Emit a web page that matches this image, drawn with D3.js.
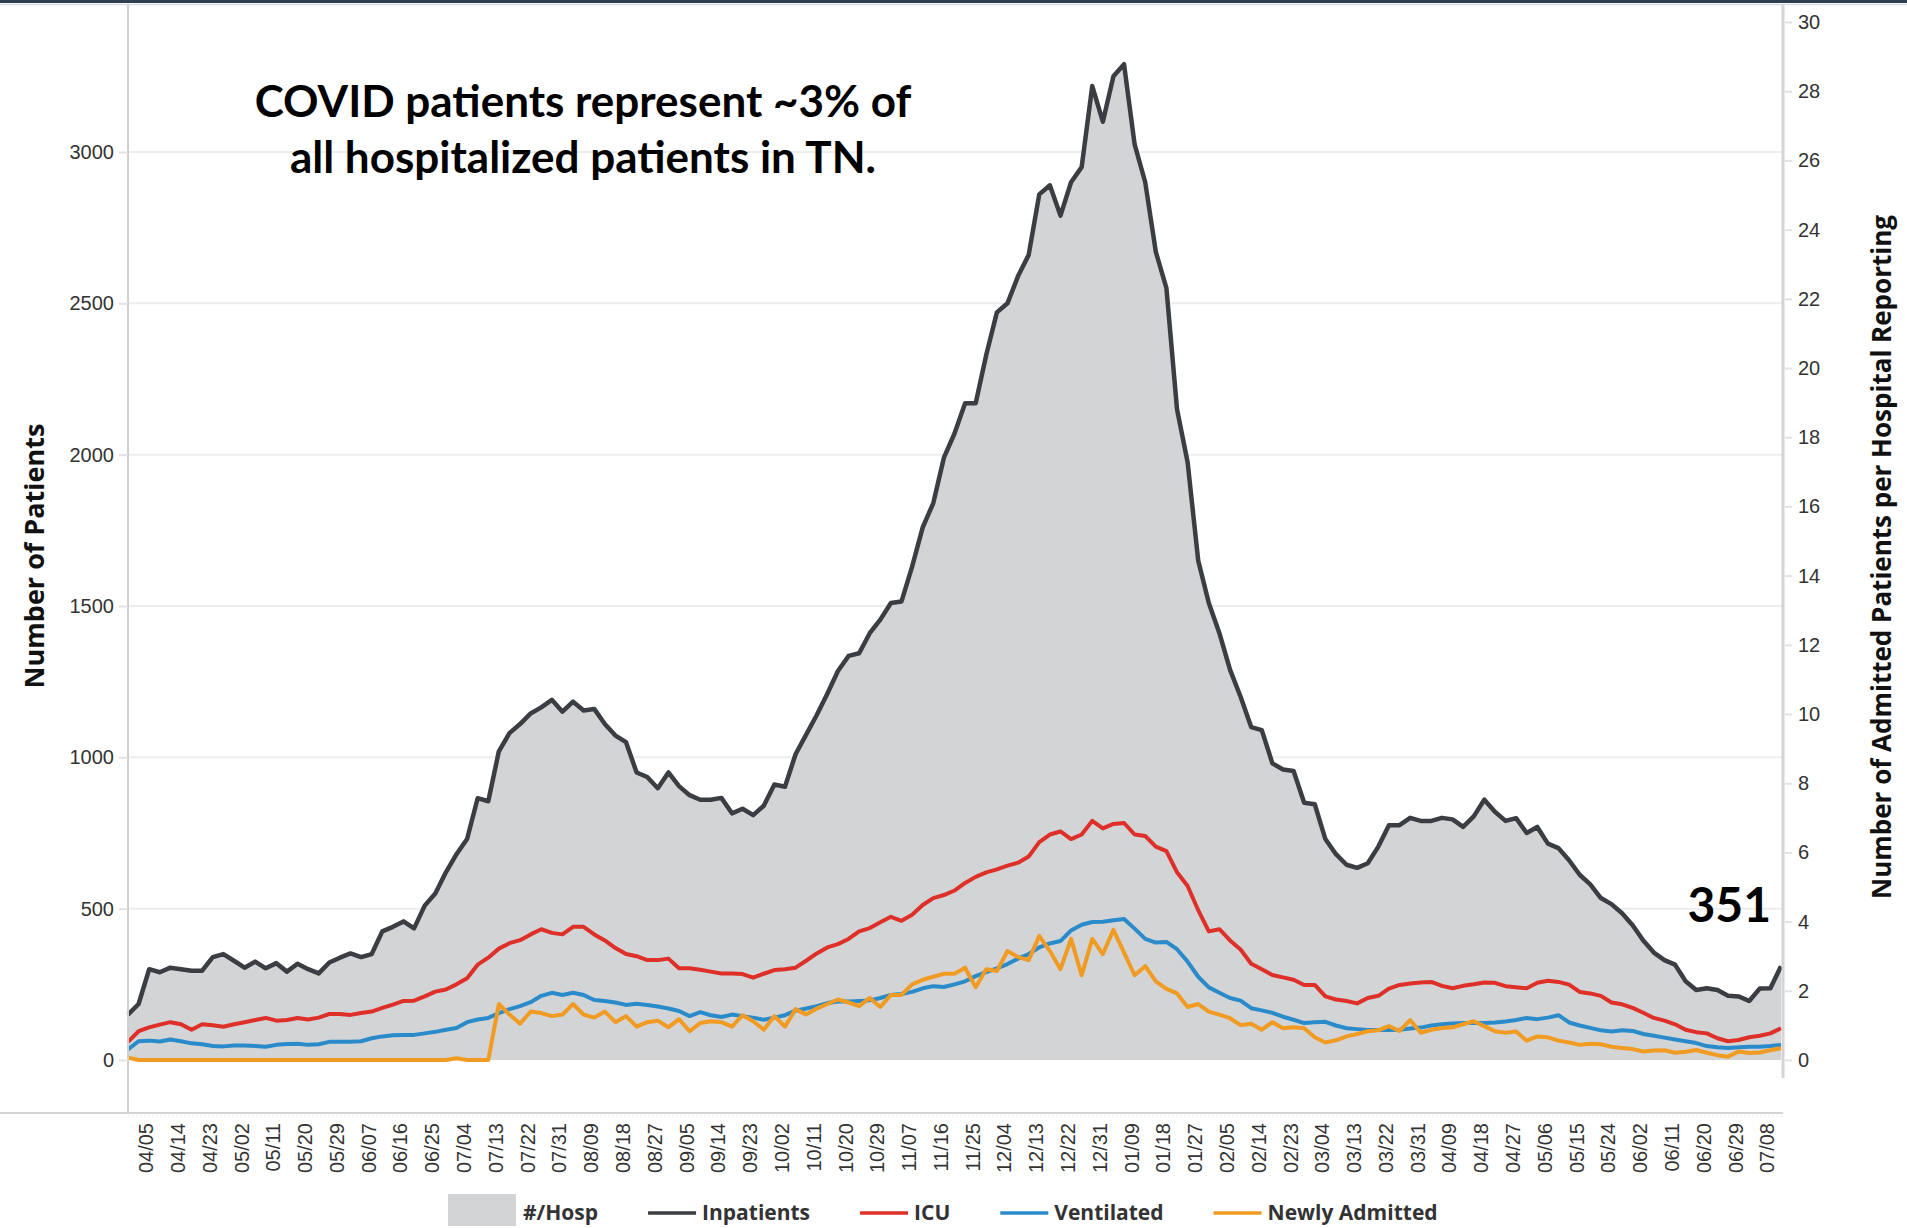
<!DOCTYPE html>
<html>
<head>
<meta charset="utf-8">
<script src="https://cdn.jsdelivr.net/npm/d3@7"></script>
<style>
  body { margin: 0; background: #fff; }
  svg { display: block; font-family: "Open Sans", sans-serif; }
  .tick text { fill: #333; font-size: 20px; }
</style>
</head>
<body>
<svg id="chart"></svg>
<script>
// daily values sampled every 3 days, 03/31/2020 .. 07/12/2021
const dates = d3.utcDay.range(new Date(Date.UTC(2020, 2, 31)), new Date(Date.UTC(2021, 6, 13)), 3);

const inpatients = [150,185,300,290,305,300,295,295,340,350,
  328,305,325,303,320,292,318,300,286,322,
  338,352,340,350,425,440,458,435,510,550,
  620,680,730,865,855,1020,1080,1110,1145,1165,
  1190,1151,1184,1155,1160,1110,1072,1050,950,935,
  898,950,905,875,860,860,866,815,830,809,
  840,910,903,1010,1075,1140,1210,1285,1335,1344,
  1410,1455,1510,1515,1630,1760,1840,1990,2070,2170,
  2170,2330,2470,2500,2590,2660,2860,2890,2790,2900,
  2950,3218,3100,3250,3290,3025,2900,2670,2550,2150,
  1975,1650,1510,1410,1290,1200,1100,1090,980,960,
  955,850,845,730,680,645,635,650,705,776,
  776,800,790,790,800,795,770,805,860,820,
  790,799,750,770,715,700,660,612,580,535,
  515,485,445,395,355,330,315,260,231,237,
  231,212,210,195,236,237,310];

const icu = [60,95,108,117,125,118,100,118,115,110,
  118,125,132,139,130,132,139,134,140,152,
  152,149,155,160,172,183,195,196,210,226,
  233,250,270,315,338,368,386,396,415,432,
  420,415,440,440,415,395,370,350,343,330,
  330,335,303,303,298,292,286,286,284,272,
  285,297,300,305,328,352,372,383,400,425,
  436,455,473,460,480,512,535,545,560,585,
  605,620,630,642,652,672,720,745,755,730,
  745,790,765,780,783,745,740,705,690,620,
  575,495,425,432,395,365,318,300,281,273,
  265,248,248,210,200,195,187,205,212,236,
  248,253,256,258,245,237,245,250,256,255,
  244,240,237,255,262,258,249,225,220,212,
  190,184,172,156,139,130,118,100,92,88,
  72,62,66,75,80,88,105];

const ventilated = [35,62,64,61,68,62,55,52,46,45,
  48,48,46,44,50,53,54,50,52,60,
  60,60,62,72,78,82,83,83,88,93,
  100,106,125,134,139,155,168,178,191,212,
  222,215,222,215,198,195,190,182,186,182,
  177,170,162,145,158,148,142,150,145,140,
  133,140,148,163,170,178,188,193,193,195,
  197,205,215,218,225,237,244,241,250,260,
  277,290,303,317,335,350,372,385,393,428,
  447,456,457,462,466,434,400,388,390,366,
  325,275,240,222,205,196,171,164,156,143,
  133,122,125,126,114,105,102,99,99,99,
  100,104,107,114,118,121,122,122,122,124,
  127,132,139,135,140,148,124,114,106,98,
  94,98,96,86,80,74,68,62,56,46,
  42,40,42,44,44,46,50];

const newlyAdmitted = [8,0,0,0,0,0,0,0,0,0,
  0,0,0,0,0,0,0,0,0,0,
  0,0,0,0,0,0,0,0,0,0,
  0,6,0,0,0,185,150,120,160,155,
  145,150,185,150,140,160,125,145,110,125,
  130,108,135,95,122,128,125,110,148,128,
  100,145,110,168,150,170,185,200,190,178,
  205,175,215,215,250,265,275,285,285,305,
  240,300,294,360,340,330,410,360,300,400,
  280,400,350,430,355,280,310,260,235,220,
  175,185,160,150,138,115,120,100,125,105,
  108,105,75,58,65,78,86,95,98,112,
  96,132,90,100,106,108,118,128,112,95,
  90,94,64,78,75,64,58,50,54,52,
  44,40,36,28,31,32,24,27,33,24,
  16,11,28,23,25,32,39];

const tickLabels = ["04/05","04/14","04/23","05/02","05/11","05/20","05/29","06/07","06/16","06/25",
  "07/04","07/13","07/22","07/31","08/09","08/18","08/27","09/05","09/14","09/23",
  "10/02","10/11","10/20","10/29","11/07","11/16","11/25","12/04","12/13","12/22",
  "12/31","01/09","01/18","01/27","02/05","02/14","02/23","03/04","03/13","03/22",
  "03/31","04/09","04/18","04/27","05/06","05/15","05/24","06/02","06/11","06/20",
  "06/29","07/08"];
const leftTicks = [0, 500, 1000, 1500, 2000, 2500, 3000];
const rightTicks = [0, 2, 4, 6, 8, 10, 12, 14, 16, 18, 20, 22, 24, 26, 28, 30];

const seriesNames = ["Inpatients", "ICU", "Ventilated", "Newly Admitted"];
const seriesValues = [inpatients, icu, ventilated, newlyAdmitted];
const seriesColors = ["#3a3d41", "#de2f28", "#2a8bcb", "#f19b22"];
const areaColor = "#d3d4d6";

const width = 1907, height = 1228;
const plot = { left: 128, right: 1783, top: 152, zero: 1060 };

const svg = d3.select('svg#chart').attr('width', width).attr('height', height);

// top frame
svg.append('rect').attr('x', 0).attr('y', 0).attr('width', width).attr('height', 3).attr('fill', '#2f3e50');
svg.append('line').attr('x1', 0).attr('x2', width).attr('y1', 4.5).attr('y2', 4.5)
  .attr('stroke', '#dcdcdc').attr('stroke-width', 1.5);

var xScale = d3.scaleUtc()
  .domain([dates[0], dates[dates.length - 1]])
  .range([plot.left, 1781]);

var yLeft = d3.scaleLinear().domain([0, 3000]).range([plot.zero, plot.top]);
var yRight = d3.scaleLinear().domain([0, 30]).range([plot.zero, 22]);

// gridlines
svg.append('g').selectAll('line').data(leftTicks.filter(d => d > 0))
  .enter().append('line')
  .attr('x1', plot.left).attr('x2', plot.right)
  .attr('y1', d => yLeft(d)).attr('y2', d => yLeft(d))
  .attr('stroke', '#ededed').attr('stroke-width', 2);

// gray #/Hosp area
var area = d3.area()
  .x((d, i) => xScale(dates[i]))
  .y0(plot.zero)
  .y1(d => yLeft(d));
svg.append('path').datum(inpatients)
  .attr('d', area)
  .attr('fill', areaColor);

// lines
var line = d3.line()
  .x((d, i) => xScale(dates[i]))
  .y(d => yLeft(d));
svg.append('g').selectAll('path').data(seriesValues)
  .enter().append('path')
  .attr('d', line)
  .attr('fill', 'none')
  .attr('stroke', (d, i) => seriesColors[i])
  .attr('stroke-width', (d, i) => i == 0 ? 4.5 : 4)
  .attr('stroke-linejoin', 'round');

// axis frame lines
svg.append('line').attr('x1', plot.left).attr('x2', plot.left).attr('y1', 5).attr('y2', 1113)
  .attr('stroke', '#cfcfcf').attr('stroke-width', 2);
svg.append('line').attr('x1', plot.right).attr('x2', plot.right).attr('y1', 5).attr('y2', 1078)
  .attr('stroke', '#d4d4d4').attr('stroke-width', 3);
svg.append('line').attr('x1', 0).attr('x2', plot.right).attr('y1', 1113).attr('y2', 1113)
  .attr('stroke', '#d4d4d4').attr('stroke-width', 2);
svg.append('line').attr('x1', plot.left).attr('x2', plot.right).attr('y1', 1116).attr('y2', 1116)
  .attr('stroke', '#eeeeee').attr('stroke-width', 1).attr('stroke-dasharray', '2,2');

// left axis
var leftAxis = svg.append('g')
  .attr('transform', 'translate(' + plot.left + ',0)')
  .call(d3.axisLeft(yLeft).tickValues(leftTicks).tickFormat(d3.format('d')).tickSize(9).tickPadding(5));
leftAxis.select('.domain').remove();
leftAxis.selectAll('.tick line').attr('stroke', '#e2e2e2').attr('stroke-width', 2);

// right axis
var rightAxis = svg.append('g')
  .attr('transform', 'translate(' + (plot.right + 2) + ',0)')
  .call(d3.axisRight(yRight).tickValues(rightTicks).tickSize(7).tickPadding(6));
rightAxis.select('.domain').remove();
rightAxis.selectAll('.tick line').attr('stroke', '#e2e2e2').attr('stroke-width', 2);

// x axis with rotated date labels
var tickDates = tickLabels.map((s, i) => {
  var year = i <= 30 ? 2020 : 2021;
  return d3.utcParse('%m/%d/%Y')(s + '/' + year);
});
var xAxis = svg.append('g')
  .attr('transform', 'translate(0,1113)')
  .call(d3.axisBottom(xScale).tickValues(tickDates).tickFormat(d3.utcFormat('%m/%d')).tickSize(0));
xAxis.select('.domain').remove();
xAxis.selectAll('.tick text')
  .attr('transform', 'rotate(-90)')
  .attr('x', -10)
  .attr('y', 0)
  .attr('dy', '0.35em')
  .style('text-anchor', 'end');

// axis titles
svg.append('text')
  .attr('transform', 'translate(33,556) rotate(-90)')
  .attr('text-anchor', 'middle').attr('dominant-baseline', 'central')
  .style('font-size', '27px').style('font-weight', 700).attr('fill', '#111')
  .text('Number of Patients');
svg.append('text')
  .attr('transform', 'translate(1881,557) rotate(-90)')
  .attr('text-anchor', 'middle').attr('dominant-baseline', 'central')
  .style('font-size', '26px').style('font-weight', 700).attr('fill', '#111')
  .text('Number of Admitted Patients per Hospital Reporting');

// annotation
var note = svg.append('text')
  .attr('x', 583).attr('text-anchor', 'middle')
  .style('font-family', 'Lato, sans-serif').style('font-size', '44px').style('font-weight', 700)
  .attr('fill', '#000');
note.append('tspan').attr('x', 583).attr('y', 117).text('COVID patients represent ~3% of');
note.append('tspan').attr('x', 583).attr('y', 173).text('all hospitalized patients in TN.');

svg.append('text')
  .attr('x', 1771).attr('y', 922).attr('text-anchor', 'end')
  .style('font-family', 'Lato, sans-serif').style('font-size', '48px').style('font-weight', 700)
  .attr('fill', '#000')
  .text('351');

// legend
var legend = svg.append('g').attr('transform', 'translate(448,1213)');
var lx = 0;
legend.append('rect').attr('x', lx).attr('y', -19).attr('width', 68).attr('height', 32).attr('fill', areaColor);
lx += 75;
var t0 = legend.append('text').attr('x', lx).attr('dy', '0.35em')
  .style('font-size', '21px').style('font-weight', 700).attr('fill', '#333').text('#/Hosp');
lx += t0.node().getComputedTextLength() + 50;
seriesNames.forEach((name, i) => {
  legend.append('line').attr('x1', lx).attr('x2', lx + 48).attr('y1', 0).attr('y2', 0)
    .attr('stroke', seriesColors[i]).attr('stroke-width', 3.5);
  lx += 54;
  var t = legend.append('text').attr('x', lx).attr('dy', '0.35em')
    .style('font-size', '21px').style('font-weight', 700).attr('fill', '#333').text(name);
  lx += t.node().getComputedTextLength() + 50;
});
</script>
</body>
</html>
